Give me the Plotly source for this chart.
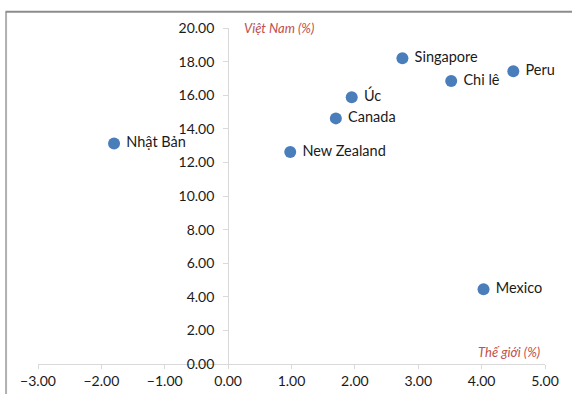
import plotly.graph_objects as go

# Growth rates: world (x) vs. Vietnam (y), in percent
countries = ["Nhật Bản", "New Zealand", "Canada", "Úc", "Singapore", "Chi lê", "Peru", "Mexico"]
the_gioi = [-1.80, 0.98, 1.70, 1.95, 2.75, 3.52, 4.50, 4.03]
viet_nam = [13.12, 12.62, 14.62, 15.88, 18.20, 16.85, 17.42, 4.45]

x_ticks = [-3, -2, -1, 0, 1, 2, 3, 4, 5]
y_ticks = [0, 2, 4, 6, 8, 10, 12, 14, 16, 18, 20]

FONT = "Lato"
AXIS_COLOR = "#d9d9d9"
TITLE_COLOR = "#c0504d"

fig = go.Figure()
fig.add_trace(go.Scatter(
    x=the_gioi,
    y=viet_nam,
    mode="markers+text",
    text=countries,
    texttemplate=" %{text}",
    textposition="middle right",
    textfont=dict(family=FONT, size=14.5, color="#1a1a1a"),
    marker=dict(size=12, color="#4a7ebb"),
    cliponaxis=False,
    showlegend=False,
))

x_min, x_max = -3, 5
fig.update_layout(
    width=572,
    height=394,
    margin=dict(l=38, r=27, t=28, b=30),
    paper_bgcolor="white",
    plot_bgcolor="white",
    font=dict(family=FONT, size=14, color="#262626"),
    xaxis=dict(
        range=[x_min, x_max],
        tickvals=x_ticks,
        tickformat=".2f",
        automargin=False,
        showgrid=False,
        zeroline=False,
        showline=True,
        linecolor=AXIS_COLOR,
        linewidth=1,
        ticks="outside",
        ticklen=4,
        tickcolor=AXIS_COLOR,
        tickfont=dict(family=FONT, size=14, color="#1a1a1a"),
    ),
    yaxis=dict(
        range=[0, 20],
        tickvals=y_ticks,
        tickformat=".2f",
        automargin=False,
        anchor="free",
        position=(0 - x_min) / (x_max - x_min),
        showgrid=False,
        zeroline=False,
        showline=True,
        linecolor=AXIS_COLOR,
        linewidth=1,
        ticks="outside",
        ticklen=5,
        ticklabelstandoff=6,
        tickcolor=AXIS_COLOR,
        tickfont=dict(family=FONT, size=14, color="#1a1a1a"),
    ),
    annotations=[
        dict(text="Việt Nam (%)", xref="x", yref="y", x=0.22, y=20,
             xanchor="left", yanchor="middle", showarrow=False,
             font=dict(family=FONT, size=13, color=TITLE_COLOR, style="italic")),
        dict(text="Thế giới (%)", xref="x", yref="y", x=4.95, y=0.7,
             xanchor="right", yanchor="middle", showarrow=False,
             font=dict(family=FONT, size=13, color=TITLE_COLOR, style="italic")),
    ],
    shapes=[
        # chart frame (left and top edges)
        dict(type="line", xref="paper", yref="paper", x0=-0.063, x1=-0.063,
             y0=1.048, y1=-0.1, line=dict(color="#b0b0b0", width=2)),
        dict(type="line", xref="paper", yref="paper", x0=-0.064, x1=1.06,
             y0=1.048, y1=1.048, line=dict(color="#8c8c8c", width=2)),
    ],
)

fig.write_html("out.html")
